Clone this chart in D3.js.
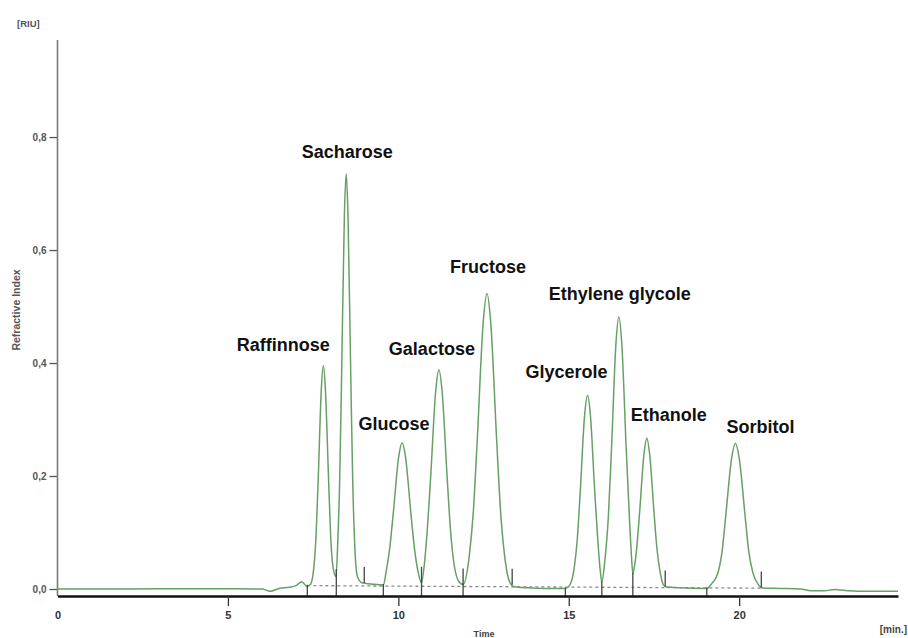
<!DOCTYPE html>
<html>
<head>
<meta charset="utf-8">
<script src="https://cdn.jsdelivr.net/npm/d3@7/dist/d3.min.js"></script>
<style>
  body { margin: 0; background: #fff; }
  svg { display: block; }
</style>
</head>
<body>
<div id="chart"></div>
<script>
// peak names, retention times (min) and top heights (RIU)
var peakNames = ["Raffinnose", "Sacharose", "Glucose", "Galactose", "Fructose",
  "Glycerole", "Ethylene glycole", "Ethanole", "Sorbitol"];
var peakTimes = [7.80, 8.47, 10.11, 11.19, 12.60, 15.55, 16.47, 17.29, 19.89];
var peakHeights = [0.395, 0.735, 0.259, 0.388, 0.523, 0.343, 0.482, 0.267, 0.258];

// detector trace [time, RIU]
var trace = [
  [0, 0], [2, 0], [4, 0.0005], [6.0, 0], [6.24, -0.004], [6.5, 0.001], [6.8, 0.003],
  [7.0, 0.006], [7.17, 0.013], [7.31, 0.005], [7.42, 0.008],
  // raffinnose
  [7.53, 0.044], [7.59, 0.10], [7.652, 0.20], [7.742, 0.356], [7.80, 0.395],
  [7.858, 0.356], [7.95, 0.20], [8.01, 0.10], [8.07, 0.045], [8.17, 0.022],
  // sacharose
  [8.223, 0.083], [8.278, 0.19], [8.334, 0.372], [8.417, 0.662], [8.47, 0.735],
  [8.523, 0.662], [8.606, 0.372], [8.662, 0.19], [8.717, 0.083], [8.80, 0.022],
  [8.93, 0.011], [9.2, 0.009], [9.56, 0.007],
  // glucose
  [9.64, 0.030], [9.743, 0.07], [9.85, 0.133], [10.01, 0.234], [10.11, 0.259],
  [10.21, 0.234], [10.37, 0.133], [10.477, 0.07], [10.58, 0.030], [10.68, 0.011],
  // galactose
  [10.76, 0.042], [10.848, 0.103], [10.948, 0.198], [11.096, 0.35], [11.19, 0.388],
  [11.284, 0.35], [11.432, 0.198], [11.532, 0.103], [11.63, 0.046], [11.76, 0.015],
  [11.90, 0.008],
  // fructose
  [12.084, 0.06], [12.20, 0.137], [12.317, 0.266], [12.49, 0.472], [12.60, 0.523],
  [12.71, 0.472], [12.883, 0.266], [13.00, 0.137], [13.116, 0.06], [13.27, 0.012],
  [13.40, 0.004], [13.8, 0.002], [14.3, 0.001], [14.9, 0.001],
  // glycerole
  [15.02, 0.006], [15.16, 0.037], [15.25, 0.088], [15.338, 0.173], [15.467, 0.309],
  [15.55, 0.343], [15.633, 0.309], [15.762, 0.173], [15.85, 0.088], [15.92, 0.035],
  [15.97, 0.012],
  // ethylene glycole
  [16.05, 0.045], [16.16, 0.126], [16.252, 0.245], [16.385, 0.435], [16.47, 0.482],
  [16.555, 0.435], [16.688, 0.245], [16.78, 0.126], [16.84, 0.058], [16.88, 0.027],
  // ethanole
  [16.94, 0.045], [16.99, 0.07], [17.078, 0.135], [17.207, 0.239], [17.29, 0.267],
  [17.373, 0.239], [17.502, 0.135], [17.59, 0.07], [17.677, 0.031], [17.77, 0.008],
  [17.84, 0.004], [18.3, 0.002], [19.05, 0.001],
  // sorbitol
  [19.2, 0.01], [19.374, 0.028], [19.498, 0.066], [19.607, 0.13], [19.78, 0.232],
  [19.89, 0.258], [20.0, 0.232], [20.173, 0.13], [20.282, 0.066], [20.406, 0.028],
  [20.56, 0.008], [20.66, 0.002],
  [21.2, 0.001], [21.8, 0], [22.1, -0.003], [22.5, -0.003], [22.8, -0.001],
  [23.2, -0.003], [23.8, -0.004], [24.66, -0.004]
];

// integration marks: drop lines at peak starts / valleys, small upward ticks at peak ends
var dropTimes = [7.33, 8.18, 9.56, 10.68, 11.90, 14.90, 15.97, 16.88, 19.05];
var endTimes = [9.00, 10.68, 11.90, 13.34, 17.83, 20.65];
// dashed integration baseline [time, RIU]
var baseline = [[7.33, 0.006], [20.65, 0.0015]];

var xTicks = [0, 5, 10, 15, 20];
var yTicks = [0, 0.2, 0.4, 0.6, 0.8];

// label nudges in px from the peak top (layout only)
var labelDx = [-40, 1, -8, -7, 1, -21, 1, 22, 25];
var labelDy = [-15, -16, -13, -15, -21, -17, -17, -17, -10];

var width = 908, height = 638;
var axisY = 596;

var x = d3.scaleLinear().domain([0, 24.66]).range([57.5, 898]);
var y = d3.scaleLinear().domain([0, 0.97]).range([589, 41]);

var svg = d3.select("#chart").append("svg")
  .attr("width", width).attr("height", height)
  .style("font-family", "'Liberation Sans', Arial, sans-serif");

// value of the trace at a given time
var bisect = d3.bisector(d => d[0]).left;
function valueAt(t) {
  var i = bisect(trace, t);
  if (i <= 0) return trace[0][1];
  if (i >= trace.length) return trace[trace.length - 1][1];
  var a = trace[i - 1], b = trace[i];
  return a[1] + (b[1] - a[1]) * (t - a[0]) / (b[0] - a[0]);
}

// y axis
var yAxis = svg.append("g")
  .attr("transform", "translate(" + x(0) + ",0)")
  .call(d3.axisLeft(y).tickValues(yTicks).tickSize(8).tickPadding(3)
    .tickFormat(d => d3.format(".1f")(d).replace(".", ",")));
yAxis.select(".domain").remove();
yAxis.selectAll("line").attr("stroke", "#555").attr("stroke-width", 1.3);
yAxis.selectAll("text").attr("fill", "#555").style("font-size", "10px").style("font-weight", "bold");
svg.append("line")
  .attr("x1", x(0)).attr("x2", x(0)).attr("y1", 40).attr("y2", axisY)
  .attr("stroke", "#7a7a7a").attr("stroke-width", 1.6);

// dashed baseline
svg.append("path")
  .datum(baseline)
  .attr("d", d3.line().x(d => x(d[0])).y(d => y(d[1])))
  .attr("fill", "none").attr("stroke", "#8a8a8a")
  .attr("stroke-width", 1.3).attr("stroke-dasharray", "3,3");

// chromatogram
svg.append("path")
  .datum(trace)
  .attr("d", d3.line().x(d => x(d[0])).y(d => y(d[1])).curve(d3.curveMonotoneX))
  .attr("fill", "none").attr("stroke", "#66a066").attr("stroke-width", 1.5);

// integration marks
svg.append("g").selectAll("line").data(dropTimes).join("line")
  .attr("x1", d => x(d)).attr("x2", d => x(d))
  .attr("y1", d => y(valueAt(d)) - 1).attr("y2", axisY)
  .attr("stroke", "#444").attr("stroke-width", 1.3);
svg.append("g").selectAll("line").data(endTimes).join("line")
  .attr("x1", d => x(d)).attr("x2", d => x(d))
  .attr("y1", d => y(valueAt(d)) - 16).attr("y2", d => y(valueAt(d)))
  .attr("stroke", "#444").attr("stroke-width", 1.3);

// x axis
var xAxis = svg.append("g")
  .attr("transform", "translate(0," + axisY + ")")
  .call(d3.axisBottom(x).tickValues(xTicks).tickSize(10).tickPadding(5).tickSizeOuter(0));
xAxis.select(".domain").attr("stroke", "#111").attr("stroke-width", 2.6);
xAxis.selectAll(".tick line").attr("stroke", "#333").attr("stroke-width", 1.3)
  .attr("opacity", d => d === 0 ? 0 : 1);
xAxis.selectAll("text").attr("fill", "#333").style("font-size", "11px").style("font-weight", "bold");

// peak labels
svg.append("g").selectAll("text").data(peakNames).join("text")
  .attr("x", (d, i) => x(peakTimes[i]) + labelDx[i])
  .attr("y", (d, i) => y(peakHeights[i]) + labelDy[i])
  .attr("text-anchor", "middle")
  .attr("fill", "#111")
  .style("font-size", "18px").style("font-weight", "bold")
  .text(d => d);

// axis titles
svg.append("text").attr("x", 17).attr("y", 27)
  .attr("fill", "#555").style("font-size", "9.5px").style("font-weight", "bold")
  .text("[RIU]");
svg.append("text")
  .attr("transform", "translate(20,310) rotate(-90)")
  .attr("text-anchor", "middle").attr("fill", "#555").style("font-size", "10.5px")
  .style("font-weight", "bold")
  .text("Refractive Index");
svg.append("text").attr("x", 907).attr("y", 633).attr("text-anchor", "end")
  .attr("fill", "#444").style("font-size", "10px").style("font-weight", "bold")
  .text("[min.]");
svg.append("text").attr("x", 484).attr("y", 637).attr("text-anchor", "middle")
  .attr("fill", "#444").style("font-size", "9px").style("font-weight", "bold")
  .text("Time");
</script>
</body>
</html>
